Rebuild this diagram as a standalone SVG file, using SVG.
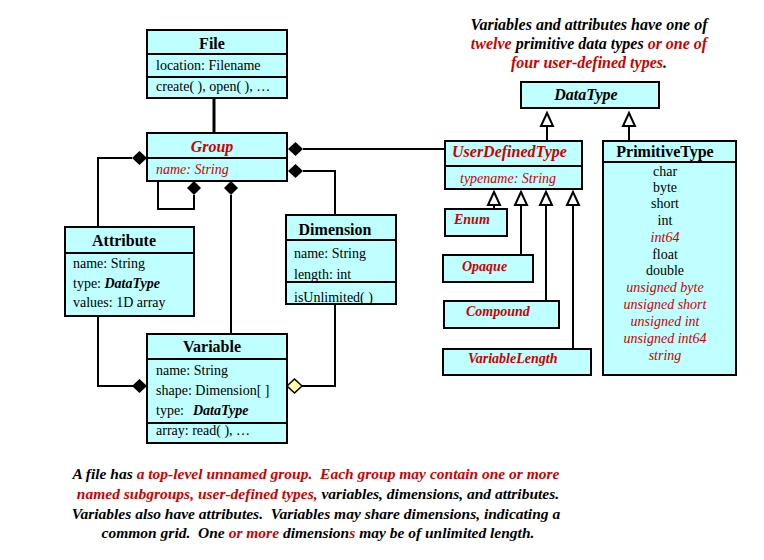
<svg xmlns="http://www.w3.org/2000/svg" xmlns:xlink="http://www.w3.org/1999/xlink" width="764" height="560" viewBox="0 0 764 560">
<style>
.box{fill:#BFFFFF;stroke:#000;stroke-width:2}
.ln{fill:none;stroke:#000;stroke-width:2}
text{font-family:"Liberation Serif","Times New Roman",serif;fill:#000}
.h{font-size:16px;font-weight:bold}
.hi{font-size:16px;font-weight:bold;font-style:italic}
.a{font-size:14px}
.ai{font-size:14px;font-style:italic}
.bi{font-size:14px;font-weight:bold;font-style:italic}
.note{font-size:16px;font-weight:bold;font-style:italic}
.nb{font-size:15.5px;font-weight:bold;font-style:italic}
.r{fill:#CC0000}
.m{text-anchor:middle}
</style>
<defs>
<path id="gen" d="M0,0 L6,13 L-6,13 Z" fill="#fff" stroke="#000" stroke-width="2"/>
<path id="dh" d="M0,0 L7.5,-7 L15,0 L7.5,7 Z" fill="#000"/>
<path id="dv" d="M0,0 L7,7 L0,14 L-7,7 Z" fill="#000"/>
</defs>

<g id="connectors">
<line x1="214" y1="98" x2="214" y2="133" stroke="#000" stroke-width="3"/>
<polyline class="ln" points="132,158 98,158 98,227"/>
<use xlink:href="#dh" x="132" y="158"/>
<polyline class="ln" points="303,149 445,149"/>
<use xlink:href="#dh" x="288" y="149"/>
<polyline class="ln" points="303,171 335,171 335,215"/>
<use xlink:href="#dh" x="288" y="171"/>
<polyline class="ln" points="158,181 158,209 194,209 194,195"/>
<use xlink:href="#dv" x="194" y="181"/>
<line class="ln" x1="231" y1="195" x2="231" y2="334"/>
<use xlink:href="#dv" x="231" y="181"/>
<polyline class="ln" points="98,316 98,386 133,386"/>
<use xlink:href="#dh" x="132" y="386"/>
<polyline class="ln" points="335,304 335,386 302,386"/>
<path d="M287,386 L294.5,379 L302,386 L294.5,393 Z" fill="#FFFFAA" stroke="#000" stroke-width="1.5"/>
<line class="ln" x1="547" y1="126" x2="547" y2="141"/>
<use xlink:href="#gen" x="547" y="113"/>
<line class="ln" x1="629" y1="126" x2="629" y2="141"/>
<use xlink:href="#gen" x="629" y="113"/>
<line class="ln" x1="494" y1="204" x2="494" y2="209"/>
<use xlink:href="#gen" x="494" y="192"/>
<line class="ln" x1="521" y1="204" x2="521" y2="255"/>
<use xlink:href="#gen" x="521" y="192"/>
<line class="ln" x1="546" y1="204" x2="546" y2="301"/>
<use xlink:href="#gen" x="546" y="192"/>
<line class="ln" x1="573" y1="204" x2="573" y2="349"/>
<use xlink:href="#gen" x="573" y="192"/>
</g>

<g id="file">
<rect class="box" x="147" y="30" width="140" height="68"/>
<line class="ln" x1="147" y1="54" x2="287" y2="54"/>
<line class="ln" x1="147" y1="77" x2="287" y2="77"/>
<text class="h m" x="212" y="49">File</text>
<text class="a" x="156" y="70">location: Filename</text>
<text class="a" x="156" y="91">create( ), open( ), …</text>
</g>

<g id="group">
<rect class="box" x="147" y="133" width="140" height="48"/>
<line class="ln" x1="147" y1="158" x2="287" y2="158"/>
<text class="hi m r" x="212" y="152">Group</text>
<text class="ai r" x="156" y="174">name: String</text>
</g>

<g id="attribute">
<rect class="box" x="65" y="227" width="129" height="89"/>
<line class="ln" x1="65" y1="253" x2="194" y2="253"/>
<text class="h m" x="124" y="246">Attribute</text>
<text class="a" x="73" y="268">name: String</text>
<text class="a" x="73" y="288">type: <tspan class="bi">DataType</tspan></text>
<text class="a" x="73" y="307">values: 1D array</text>
</g>

<g id="dimension">
<rect class="box" x="286" y="215" width="110" height="89"/>
<line class="ln" x1="286" y1="240" x2="396" y2="240"/>
<line class="ln" x1="286" y1="282" x2="396" y2="282"/>
<text class="h m" x="335" y="235">Dimension</text>
<text class="a" x="294" y="258">name: String</text>
<text class="a" x="294" y="279">length: int</text>
<text class="a" x="294" y="302">isUnlimited( )</text>
</g>

<g id="variable">
<rect class="box" x="147" y="334" width="140" height="109"/>
<line class="ln" x1="147" y1="359" x2="287" y2="359"/>
<line class="ln" x1="147" y1="423" x2="287" y2="423"/>
<text class="h m" x="212" y="352">Variable</text>
<text class="a" x="156" y="375">name: String</text>
<text class="a" x="156" y="395">shape: Dimension[ ]</text>
<text class="a" x="156" y="415">type:<tspan class="bi" x="193">DataType</tspan></text>
<text class="a" x="156" y="435">array: read( ), …</text>
</g>

<g id="datatype">
<rect class="box" x="521" y="82" width="138" height="26"/>
<text class="hi m" x="586" y="100">DataType</text>
</g>

<g id="userdefinedtype">
<rect class="box" x="445" y="141" width="137" height="48"/>
<line class="ln" x1="445" y1="166" x2="582" y2="166"/>
<text class="hi r" x="452" y="157">UserDefinedType</text>
<text class="ai r" x="460" y="183">typename: String</text>
</g>

<g id="primitivetype">
<rect class="box" x="603" y="141" width="133" height="234"/>
<line class="ln" x1="603" y1="162" x2="736" y2="162"/>
<text class="h m" x="665" y="157">PrimitiveType</text>
<text class="a m" x="665" y="176">char</text>
<text class="a m" x="665" y="192">byte</text>
<text class="a m" x="665" y="208">short</text>
<text class="a m" x="665" y="225">int</text>
<text class="ai m r" x="665" y="242">int64</text>
<text class="a m" x="665" y="259">float</text>
<text class="a m" x="665" y="275">double</text>
<text class="ai m r" x="665" y="292">unsigned byte</text>
<text class="ai m r" x="665" y="309">unsigned short</text>
<text class="ai m r" x="665" y="326">unsigned int</text>
<text class="ai m r" x="665" y="343">unsigned int64</text>
<text class="ai m r" x="665" y="360">string</text>
</g>

<g id="enum">
<rect class="box" x="445" y="209" width="62" height="27"/>
<text class="bi r" x="454" y="224">Enum</text>
</g>
<g id="opaque">
<rect class="box" x="443" y="255" width="90" height="27"/>
<text class="bi r" x="462" y="271">Opaque</text>
</g>
<g id="compound">
<rect class="box" x="444" y="301" width="115" height="27"/>
<text class="bi r" x="466" y="316">Compound</text>
</g>
<g id="variablelength">
<rect class="box" x="443" y="349" width="148" height="26"/>
<text class="bi r" x="468" y="363">VariableLength</text>
</g>

<g id="note-top">
<text class="note m" x="589" y="30">Variables and attributes have one of</text>
<text class="note m" x="589" y="49"><tspan class="r">twelve</tspan> primitive data types <tspan class="r">or one of</tspan></text>
<text class="note m" x="589" y="68"><tspan class="r">four user-defined types</tspan>.</text>
</g>

<g id="note-bottom">
<text class="nb m" x="316" y="479" xml:space="preserve">A file has <tspan class="r">a top-level unnamed group.  Each group may contain one or more</tspan></text>
<text class="nb m" x="318" y="499" xml:space="preserve"><tspan class="r">named subgroups, user-defined types,</tspan> variables, dimensions, and attributes.</text>
<text class="nb m" x="316" y="519" xml:space="preserve">Variables also have attributes.  Variables may share dimensions, indicating a</text>
<text class="nb m" x="318" y="538" xml:space="preserve">common grid.  One <tspan class="r">or more</tspan> dimension<tspan class="r">s</tspan> may be of unlimited length.</text>
</g>
</svg>
